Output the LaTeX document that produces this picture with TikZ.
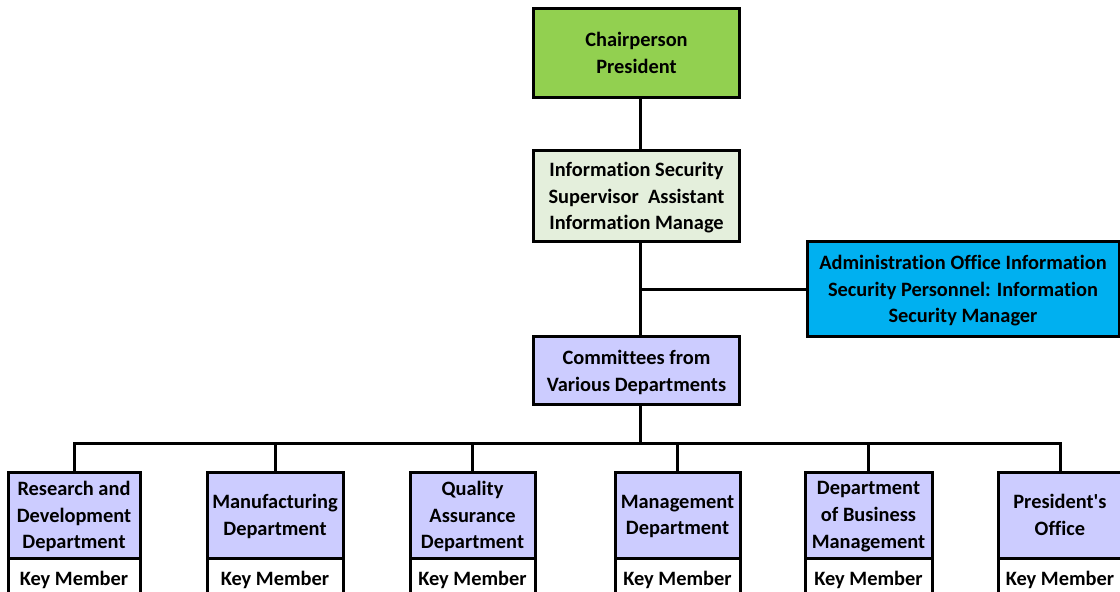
\documentclass[tikz,border=0pt]{standalone}
\usepackage{fontspec}
\setmainfont{Carlito}[Ligatures={NoCommon}]
\definecolor{chairgreen}{HTML}{92D050}
\definecolor{palegreen}{HTML}{E4EFDC}
\definecolor{adminblue}{HTML}{00B0F0}
\definecolor{deptlilac}{HTML}{CCCCFF}
\begin{document}
\begin{tikzpicture}[x=1pt,y=-1pt,
  box/.style={draw=black, line width=3pt, align=center, inner sep=0pt, outer sep=0pt,
    text depth=-4pt, font=\fontsize{20.4}{26.7}\selectfont\bfseries},
  dept/.style={box, fill=deptlilac, minimum height=86pt},
  keyrow/.style={box, fill=white, minimum height=40pt, anchor=north},
  conn/.style={line width=3pt, line join=miter}]
\useasboundingbox (0,0) rectangle (1120,592);

% upper chain
\node[box, fill=chairgreen, minimum width=206pt, minimum height=89pt] (chair) at (636.5,53) {Chairperson\\President};
\node[box, fill=palegreen, minimum width=206pt, minimum height=91pt] (info) at (636.5,196) {Information Security\\Supervisor\ \ Assistant\\Information Manage};
\node[box, fill=adminblue, minimum width=312pt, minimum height=95pt] (admin) at (963,289) {Administration Office Information\\Security Personnel: Information\\Security Manager};
\node[box, fill=deptlilac, minimum width=206pt, minimum height=68pt] (comm) at (636.5,370.5) {Committees from\\Various Departments};

% departments
\node[dept, minimum width=132pt] (d1) at (74,515) {Research and\\Development\\Department};
\node[dept, minimum width=136pt] (d2) at (275,515) {Manufacturing\\Department};
\node[dept, minimum width=125pt] (d3) at (472.5,515) {Quality\\Assurance\\Department};
\node[dept, minimum width=125pt] (d4) at (677.5,515) {Management\\Department};
\node[dept, minimum width=127pt] (d5) at (868.5,515) {Department\\of Business\\Management};
\node[dept, minimum width=124pt] (d6) at (1060,515) {President\textquotesingle s\\Office};

\node[keyrow, minimum width=132pt] (k1) at (d1.south) {Key Member};
\node[keyrow, minimum width=136pt] (k2) at (d2.south) {Key Member};
\node[keyrow, minimum width=125pt] (k3) at (d3.south) {Key Member};
\node[keyrow, minimum width=125pt] (k4) at (d4.south) {Key Member};
\node[keyrow, minimum width=127pt] (k5) at (d5.south) {Key Member};
\node[keyrow, minimum width=124pt] (k6) at (d6.south) {Key Member};

% connectors
\coordinate (trunk) at (640,0);
\coordinate (bus) at (640,443);
\draw[conn] (chair.south -| trunk) -- (info.north -| trunk);
\draw[conn] (info.south -| trunk) -- (comm.north -| trunk);
\draw[conn] (admin.west) -- (admin.west -| trunk);
\draw[conn] (comm.south -| trunk) -- (bus);
\draw[conn] (d1.north) |- (d6.north |- bus) -- (d6.north);
\foreach \d in {d2,d3,d4,d5} \draw[conn] (\d.north) -- (\d.north |- bus);
\end{tikzpicture}
\end{document}
